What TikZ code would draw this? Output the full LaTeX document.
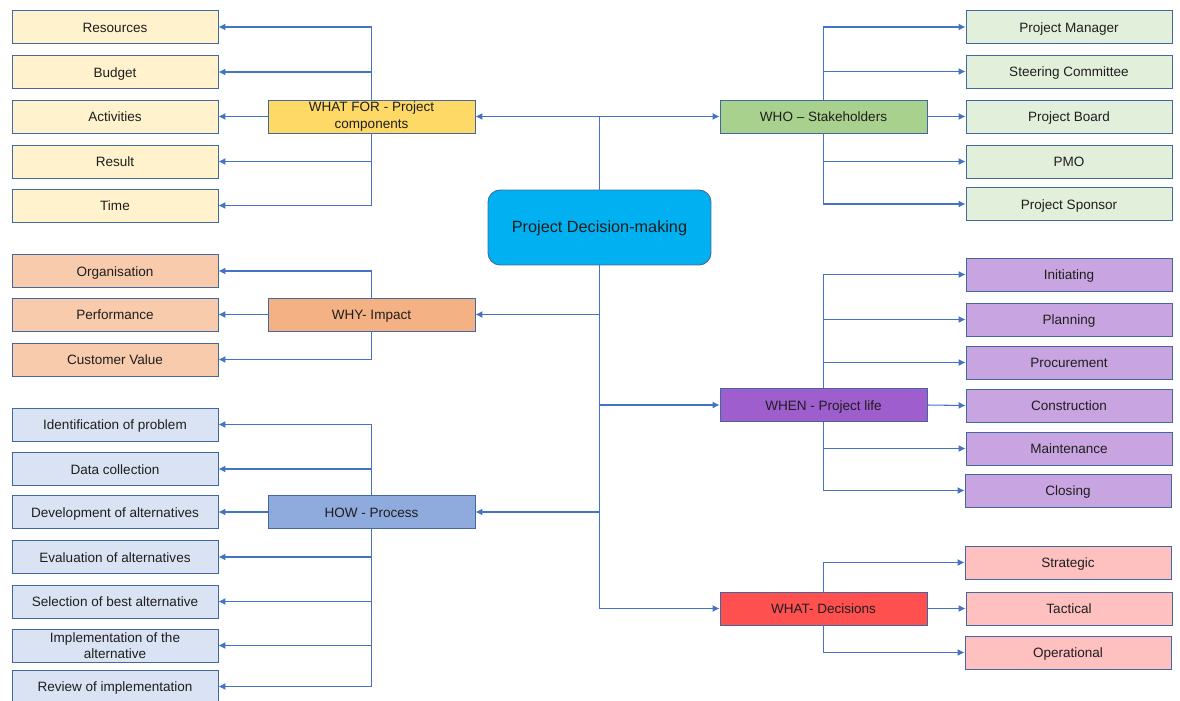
\documentclass[tikz,border=0pt]{standalone}
\usepackage{fontspec}
\setmainfont{Liberation Sans}
\usetikzlibrary{arrows.meta}
\definecolor{conn}{HTML}{4472C4}
\definecolor{bord}{HTML}{41689F}
\definecolor{txt}{HTML}{1E1E1E}
\definecolor{yelL}{HTML}{FFF2CC}\definecolor{yelD}{HTML}{FFD966}
\definecolor{grnL}{HTML}{E2EFDA}\definecolor{grnD}{HTML}{A9D18E}
\definecolor{orgL}{HTML}{F8CBAD}\definecolor{orgD}{HTML}{F4B183}
\definecolor{bluL}{HTML}{DAE3F3}\definecolor{bluD}{HTML}{8FAADC}
\definecolor{purL}{HTML}{C8A5E0}\definecolor{purD}{HTML}{9E5ECE}
\definecolor{redL}{HTML}{FFC0C0}\definecolor{redD}{HTML}{FF5050}
\definecolor{ctr}{HTML}{00B0F0}
\begin{document}
\begin{tikzpicture}[x=0.02cm,y=-0.02cm,
  box/.style={draw=bord,line width=0.5pt,minimum width=4.12cm,minimum height=0.66cm,inner sep=1pt,align=center,text=txt,font=\fontsize{7.7}{8.6}\selectfont,text height=1.55ex,text depth=0.45ex},
  twoline/.style={text height=,text depth=,font=\fontsize{7.7}{9.4}\selectfont},
  hub/.style={box,minimum width=4.14cm},
  link/.style={draw=conn,line width=0.6pt,-{Latex[length=4pt,width=4pt]}}]
\useasboundingbox (0,0) rectangle (1180,700);
\clip (0,0) rectangle (1180,700);
% center
\node[draw=bord,line width=0.5pt,fill=ctr,rounded corners=0.24cm,minimum width=4.46cm,minimum height=1.5cm,text=txt,font=\fontsize{9.25}{11}\selectfont,text height=1.55ex,text depth=0.45ex] (c) at (599.5,227.5) {Project Decision-making};
% hubs
\node[hub,twoline,fill=yelD] (whatfor) at (371.5,116.5) {WHAT FOR - Project\\components};
\node[hub,fill=orgD] (why) at (371.5,314.5) {WHY- Impact};
\node[hub,fill=bluD] (how) at (371.5,512) {HOW - Process};
\node[hub,fill=grnD] (who) at (823.5,116.5) {WHO – Stakeholders};
\node[hub,fill=purD] (when) at (823.5,405) {WHEN - Project life};
\node[hub,fill=redD] (what) at (823.5,608.5) {WHAT- Decisions};
% WHAT FOR children
\node[box,fill=yelL] (res) at (115,27) {Resources};
\node[box,fill=yelL] (bud) at (115,72) {Budget};
\node[box,fill=yelL] (act) at (115,116.5) {Activities};
\node[box,fill=yelL] (resu) at (115,161.5) {Result};
\node[box,fill=yelL] (time) at (115,205.5) {Time};
% WHY children
\node[box,fill=orgL] (orgn) at (115,271) {Organisation};
\node[box,fill=orgL] (perf) at (115,314.5) {Performance};
\node[box,fill=orgL] (cust) at (115,359.5) {Customer Value};
% HOW children
\node[box,fill=bluL] (iden) at (115,424.5) {Identification of problem};
\node[box,fill=bluL] (data) at (115,469) {Data collection};
\node[box,fill=bluL] (dev) at (115,512) {Development of alternatives};
\node[box,fill=bluL] (eval) at (115,557) {Evaluation of alternatives};
\node[box,fill=bluL] (sel) at (115,601.5) {Selection of best alternative};
\node[box,twoline,fill=bluL] (impl) at (115,645.5) {Implementation of the\\alternative};
\node[box,fill=bluL] (rev) at (115,686.5) {Review of implementation};
% WHO children
\node[box,fill=grnL] (pm) at (1069,27) {Project Manager};
\node[box,fill=grnL] (sc) at (1069,71.5) {Steering Committee};
\node[box,fill=grnL] (pb) at (1069,116.5) {Project Board};
\node[box,fill=grnL] (pmo) at (1069,161.5) {PMO};
\node[box,fill=grnL] (ps) at (1069,204) {Project Sponsor};
% WHEN children
\node[box,fill=purL] (ini) at (1069,274.5) {Initiating};
\node[box,fill=purL] (pla) at (1069,319.5) {Planning};
\node[box,fill=purL] (pro) at (1069,362.5) {Procurement};
\node[box,fill=purL] (con) at (1069,405.5) {Construction};
\node[box,fill=purL] (mai) at (1069,448.5) {Maintenance};
\node[box,fill=purL] (clo) at (1068,490.5) {Closing};
% WHAT children
\node[box,fill=redL] (str) at (1068,562.5) {Strategic};
\node[box,fill=redL] (tac) at (1069,608.5) {Tactical};
\node[box,fill=redL] (ope) at (1068,652.5) {Operational};
% center to hubs
\draw[link] (c.north) |- (whatfor.east);
\draw[link] (c.north) |- (who.west);
\draw[link] (c.south) |- (why.east);
\draw[link] (c.south) |- (how.east);
\draw[link] (c.south) |- (when.west);
\draw[link] (c.south) |- (what.west);
% WHAT FOR
\draw[link] (whatfor.north) |- (res.east);
\draw[link] (whatfor.north) |- (bud.east);
\draw[link] (whatfor.west) -- (act.east);
\draw[link] (whatfor.south) |- (resu.east);
\draw[link] (whatfor.south) |- (time.east);
% WHY
\draw[link] (why.north) |- (orgn.east);
\draw[link] (why.west) -- (perf.east);
\draw[link] (why.south) |- (cust.east);
% HOW
\draw[link] (how.north) |- (iden.east);
\draw[link] (how.north) |- (data.east);
\draw[link] (how.west) -- (dev.east);
\draw[link] (how.south) |- (eval.east);
\draw[link] (how.south) |- (sel.east);
\draw[link] (how.south) |- (impl.east);
\draw[link] (how.south) |- (rev.east);
% WHO
\draw[link] (who.north) |- (pm.west);
\draw[link] (who.north) |- (sc.west);
\draw[link] (who.east) -- (pb.west);
\draw[link] (who.south) |- (pmo.west);
\draw[link] (who.south) |- (ps.west);
% WHEN
\draw[link] (when.north) |- (ini.west);
\draw[link] (when.north) |- (pla.west);
\draw[link] (when.north) |- (pro.west);
\draw[link] (when.east) -- (con.west);
\draw[link] (when.south) |- (mai.west);
\draw[link] (when.south) |- (clo.west);
% WHAT
\draw[link] (what.north) |- (str.west);
\draw[link] (what.east) -- (tac.west);
\draw[link] (what.south) |- (ope.west);
\end{tikzpicture}
\end{document}
